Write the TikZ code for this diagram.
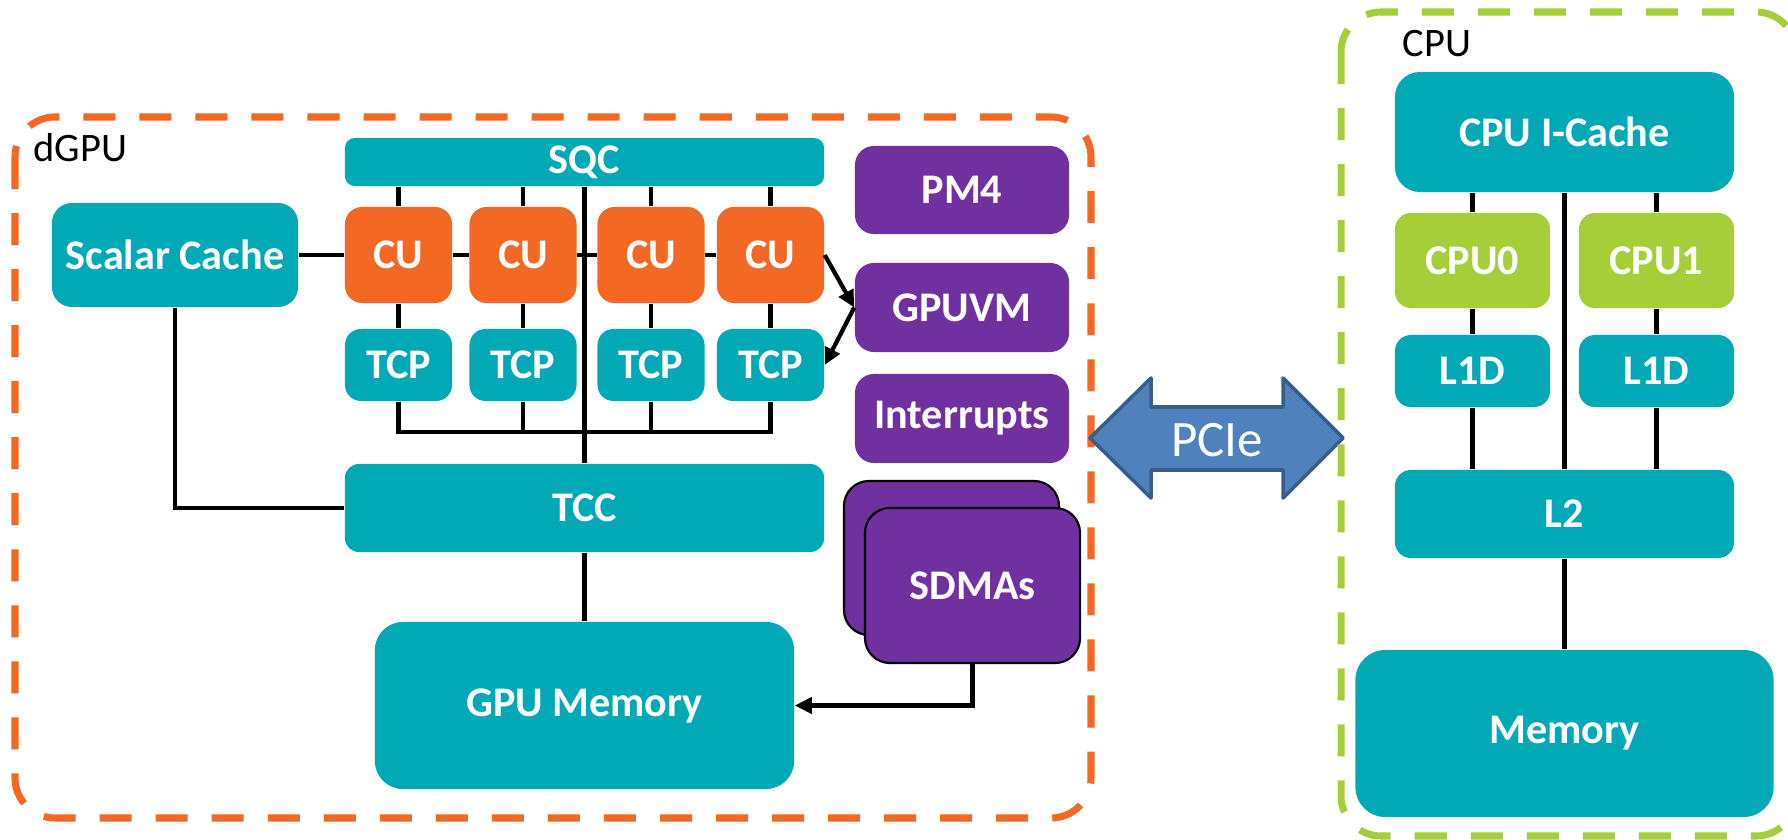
\documentclass[tikz,border=0pt]{standalone}
\usepackage{fontspec}
\setmainfont{Carlito}
\usetikzlibrary{arrows.meta}
\definecolor{amdteal}{RGB}{0,169,181}
\definecolor{amdorange}{RGB}{243,104,35}
\definecolor{amdpurple}{RGB}{112,48,160}
\definecolor{amdgreen}{RGB}{166,206,57}
\definecolor{pcieblue}{RGB}{79,129,189}
\definecolor{pcieedge}{RGB}{56,93,138}
\tikzset{
  box/.style={rounded corners=#1, inner sep=0pt, text=white,
    font=\bfseries\fontsize{12}{14}\selectfont},
  box/.default=0.16cm,
  cachebox/.style={box, fill=amdteal},
  cubox/.style={box=0.17cm, fill=amdorange, minimum width=1.07cm, minimum height=0.96cm},
  tcpbox/.style={cachebox, minimum width=1.07cm, minimum height=0.72cm},
  enginebox/.style={box=0.19cm, fill=amdpurple, minimum width=2.14cm, minimum height=0.88cm},
  corebox/.style={box, fill=amdgreen, minimum width=1.55cm, minimum height=0.95cm},
  l1box/.style={cachebox, minimum width=1.55cm, minimum height=0.72cm},
  link/.style={line width=1.2pt},
  flow/.style={link, -{Triangle[length=0.17cm,width=0.16cm]}},
  region/.style={line width=2pt, dash pattern=on 0.32cm off 0.24cm, rounded corners=0.4cm},
  label/.style={font=\fontsize{11.5}{13}\selectfont, inner sep=0pt},
}
\begin{document}
\begin{tikzpicture}[x=0.01cm,y=-0.01cm]
  \useasboundingbox (0,0) rectangle (1788,840);
  % dGPU side
  \draw[region, draw=amdorange] (15,117) rectangle (1091,818);
  \node[label, anchor=base west] (dgpu) at (33,162) {dGPU};

  \node[cachebox, box=0.2cm, minimum width=2.46cm, minimum height=1.04cm] (scache) at (175,255) {Scalar Cache};
  \node[cachebox, box=0.1cm, minimum width=4.79cm, minimum height=0.48cm] (sqc) at (584.5,162) {SQC};
  \node[cubox] (cu1) at (398.5,255) {CU};
  \node[cubox] (cu2) at (523,255) {CU};
  \node[cubox] (cu3) at (651,255) {CU};
  \node[cubox] (cu4) at (770.5,255) {CU};
  \node[tcpbox] (tcp1) at (398.5,365) {TCP};
  \node[tcpbox] (tcp2) at (523,365) {TCP};
  \node[tcpbox] (tcp3) at (651,365) {TCP};
  \node[tcpbox] (tcp4) at (770.5,365) {TCP};
  \node[cachebox, box=0.14cm, minimum width=4.79cm, minimum height=0.88cm] (tcc) at (584.5,508) {TCC};
  \node[cachebox, box=0.28cm, minimum width=4.19cm, minimum height=1.67cm] (gpumem) at (584.5,705.5) {GPU Memory};

  \node[enginebox] (pm4) at (962,190) {PM4};
  \node[enginebox, minimum height=0.89cm] (gpuvm) at (962,307.5) {GPUVM};
  \node[enginebox, minimum height=0.89cm] (intr) at (962,418.5) {Interrupts};
  \node[enginebox, box=0.25cm, draw=black, line width=0.6pt, minimum width=2.15cm, minimum height=1.54cm] (sdmaback) at (951.5,558) {};
  \node[enginebox, box=0.25cm, draw=black, line width=0.6pt, minimum width=2.15cm, minimum height=1.55cm] (sdma) at (972.5,585.5) {SDMAs};

  \coordinate (bus) at (0,432);
  \draw[link] (scache.east) -- (cu1.west);
  \draw[link] (cu1.east) -- (cu2.west);
  \draw[link] (cu2.east) -- (cu3.west);
  \draw[link] (cu3.east) -- (cu4.west);
  \draw[link] (cu1.north) -- (cu1.north |- sqc.south);
  \draw[link] (cu2.north) -- (cu2.north |- sqc.south);
  \draw[link] (cu3.north) -- (cu3.north |- sqc.south);
  \draw[link] (cu4.north) -- (cu4.north |- sqc.south);
  \draw[link] (cu1.south) -- (tcp1.north);
  \draw[link] (cu2.south) -- (tcp2.north);
  \draw[link] (cu3.south) -- (tcp3.north);
  \draw[link] (cu4.south) -- (tcp4.north);
  \draw[link] (tcp1.south) -- (tcp1.south |- bus) -- (tcp4.south |- bus) -- (tcp4.south);
  \draw[link] (tcp2.south) -- (tcp2.south |- bus);
  \draw[link] (tcp3.south) -- (tcp3.south |- bus);
  \draw[link] (sqc.south) -- (tcc.north);
  \draw[link] (scache.south) |- (tcc.west);
  \draw[link] (tcc.south) -- (gpumem.north);
  \draw[flow] (cu4.east) -- (gpuvm.west);
  \draw[flow] (gpuvm.west) -- (tcp4.east);
  \draw[flow] (sdma.south) |- (gpumem.east);

  % PCIe link
  \draw[fill=pcieblue, draw=pcieedge, line width=1pt, line join=round]
    (1090,438) -- (1151,378) -- (1151,407) -- (1283,407) -- (1283,378) -- (1343,438)
    -- (1283,498) -- (1283,470) -- (1151,470) -- (1151,498) -- cycle;
  \node[text=white, font=\fontsize{14.5}{16}\selectfont, inner sep=0pt] (pcie) at (1217,440) {PCIe};

  % CPU side
  \draw[region, draw=amdgreen] (1341,12) rectangle (1796,836);
  \node[label, anchor=base west] (cpu) at (1402,57) {CPU};

  \node[cachebox, box=0.25cm, minimum width=3.39cm, minimum height=1.2cm] (icache) at (1564.5,132) {CPU I-Cache};
  \node[corebox] (cpu0) at (1472.5,260.5) {CPU0};
  \node[corebox] (cpu1) at (1656.5,260.5) {CPU1};
  \node[l1box] (l1d0) at (1472.5,371) {L1D};
  \node[l1box] (l1d1) at (1656.5,371) {L1D};
  \node[cachebox, minimum width=3.39cm, minimum height=0.88cm] (l2) at (1564.5,514) {L2};
  \node[cachebox, box=0.3cm, minimum width=4.18cm, minimum height=1.67cm] (mem) at (1564.5,733.5) {Memory};

  \draw[link] (cpu0.north) -- (cpu0.north |- icache.south);
  \draw[link] (cpu1.north) -- (cpu1.north |- icache.south);
  \draw[link] (cpu0.south) -- (l1d0.north);
  \draw[link] (cpu1.south) -- (l1d1.north);
  \draw[link] (l1d0.south) -- (l1d0.south |- l2.north);
  \draw[link] (l1d1.south) -- (l1d1.south |- l2.north);
  \draw[link] (icache.south) -- (l2.north);
  \draw[link] (l2.south) -- (mem.north);
\end{tikzpicture}
\end{document}
